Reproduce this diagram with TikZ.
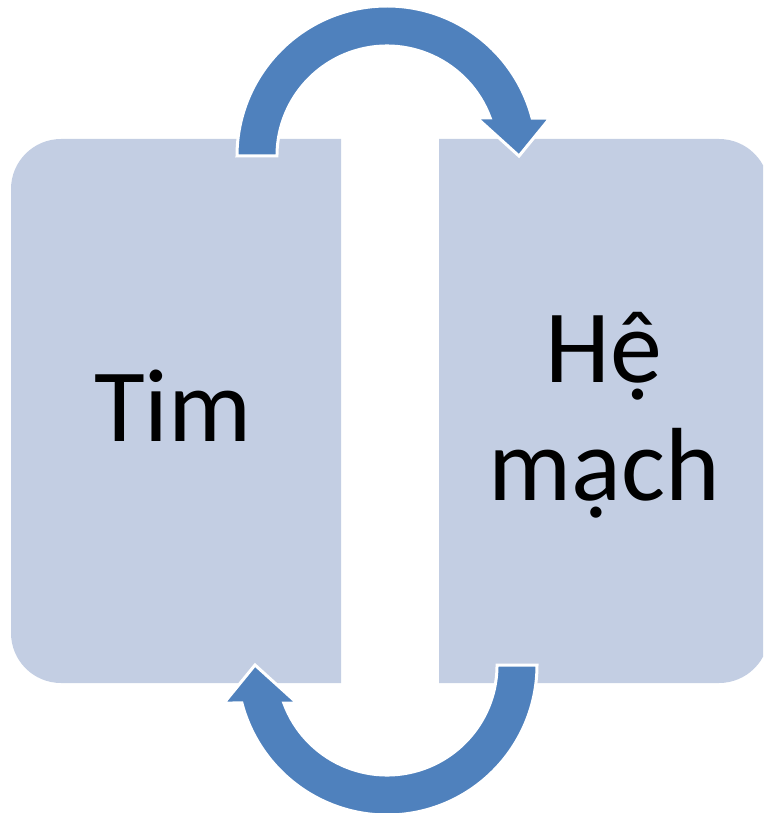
\documentclass[tikz,border=0pt]{standalone}
\usepackage{fontspec}
\setmainfont{Carlito}
\definecolor{boxfill}{RGB}{195,206,227}
\definecolor{arrowfill}{RGB}{79,129,189}
\begin{document}
\begin{tikzpicture}[x=1pt,y=-1pt,
  panel/.style={fill=boxfill,draw=none},
  cyclearrow/.style={fill=arrowfill,draw=white,line width=3pt,line join=miter},
  label/.style={font=\fontsize{104}{118}\selectfont,text=black,inner sep=0pt,align=center}]
  \useasboundingbox (0,0) rectangle (763,813);
  \clip (0,0) rectangle (763,813);

  % two panels, rounded on their outer sides
  \path[panel] (341,139) -- (61,139) arc[start angle=270,end angle=180,radius=50]
     -- (11,633) arc[start angle=180,end angle=90,radius=50] -- (341,683) -- cycle;
  \path[panel] (439,139) -- (719,139) arc[start angle=270,end angle=360,radius=50]
     -- (769,633) arc[start angle=0,end angle=90,radius=50] -- (439,683) -- cycle;

  % curved arrow over the top, from the left panel to the right one
  \coordinate (ctop) at (387,156);
  \newcommand{\blockarc}{%
    (237,156) arc[start angle=180,end angle=345.33,radius=150]
    -- (550,118) -- (519,156) -- (477,118)
    -- (490.2,118) arc[start angle=339.8,end angle=180,radius=110] -- cycle}
  \path[cyclearrow] \blockarc;
  % the same arrow turned half a turn, underneath
  \begin{scope}[rotate around={180:(387,410.5)}]
    \path[cyclearrow] \blockarc;
  \end{scope}

  \node[label,anchor=base] (tim) at (173,441) {Tim};
  % the base anchor of a two-line node sits on its last line
  \node[label,anchor=base] (hemach) at (604,500) {Hệ\\mạch};
\end{tikzpicture}
\end{document}
